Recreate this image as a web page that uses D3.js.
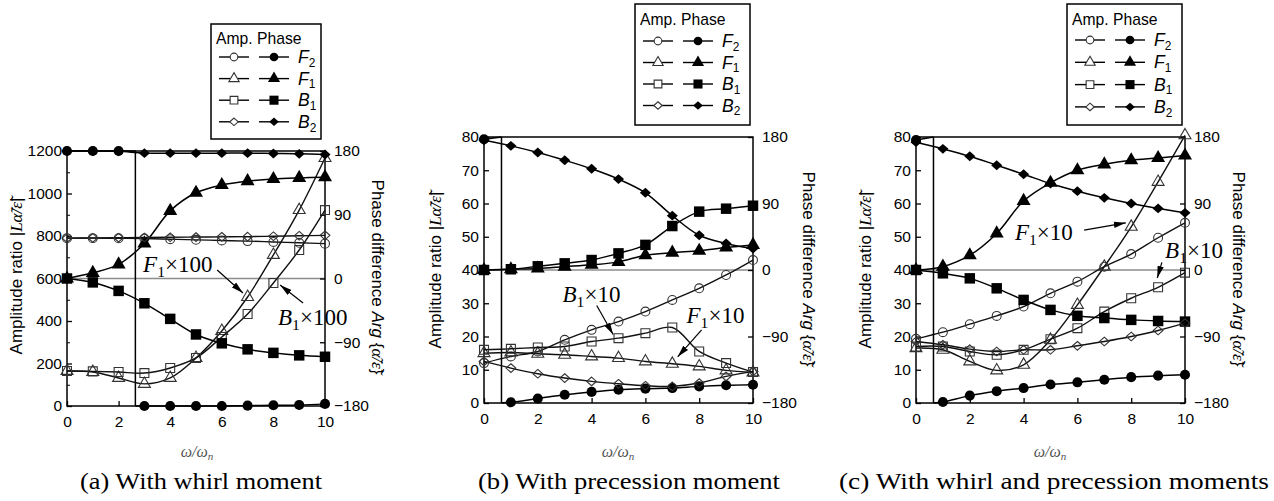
<!DOCTYPE html>
<html>
<head>
<meta charset="utf-8">
<script src="https://cdn.jsdelivr.net/npm/d3@7"></script>
<style>
  body { margin: 0; background: #fff; }
  svg text { font-family: "Liberation Sans", Arial, sans-serif; }
  .serif { font-family: "Liberation Serif", "Times New Roman", serif; }
</style>
</head>
<body>
<svg id="chart" width="1274" height="501"></svg>
<script>
// frequency ratio w/wn
var omega = [0, 1, 2, 3, 4, 5, 6, 7, 8, 9, 10];
var xTicks = [0, 2, 4, 6, 8, 10];
var phaseTicks = [-180, -90, 0, 90, 180];

// (a) whirl moment: amplitude ratio (F1, B1 already x100)
var aAmpF2 = [790, 790, 789, 788, 785, 782, 779, 776, 772, 768, 764];
var aAmpF1 = [165, 160, 132, 104, 132, 226, 353, 513, 711, 922, 1167];
var aAmpB1 = [165, 163, 160, 155, 179, 226, 325, 433, 579, 734, 922];
var aAmpB2 = [790, 791, 792, 793, 794, 795, 796, 797, 799, 801, 803];
// (a) phase difference, deg
var aPhF2 = [180, 180, 180, -180, -180, -180, -180, -179.5, -179, -178.5, -177];
var aPhF1 = [0, 8, 20, 49.5, 95.5, 121, 132, 137.5, 140.5, 142, 143];
var aPhB1 = [0, -5.5, -17.5, -35, -57, -79, -91.5, -100, -105, -108.5, -110.5];
var aPhB2 = [180, 180, 179.5, 177, 177, 177, 177, 177, 176.5, 176, 175];
var aJump = 2.65;

// (b) precession moment (F1, B1 x10)
var bAmpF2 = [12, 14, 15.5, 19, 22, 24.5, 27.5, 31, 34.5, 38.5, 43];
var bAmpF1 = [15, 15.2, 14.8, 14.5, 14, 13.5, 12.5, 11.8, 11, 9.8, 9.2];
var bAmpB1 = [16, 16.3, 16.7, 17, 18.5, 19.5, 21, 22.7, 15.5, 12, 9.3];
var bAmpB2 = [12.5, 10.5, 8.8, 7.5, 6.5, 5.8, 5.2, 5.0, 6.0, 8.0, 9.5];
var bPhF2 = [177, -179, -174, -168.8, -165, -162, -160.6, -159.8, -157.5, -156, -155.3];
var bPhF1 = [0, 1, 2, 4.5, 7, 11, 20, 23.5, 26, 30.5, 34];
var bPhB1 = [0, 1, 5, 9, 13.5, 22.5, 34, 59.5, 79, 83, 87];
var bPhB2 = [175.5, 168, 159, 148.5, 137, 123, 104.5, 73.5, 47, 36, 29];
var bJump = 0.65;

// (c) whirl and precession moments (F1, B1 x10)
var cAmpF2 = [19.3, 21.3, 23.7, 26.2, 29, 33, 36.5, 41, 44.8, 49.7, 54.2];
var cAmpF1 = [16.5, 16, 12.5, 9.8, 11.5, 19, 29.5, 41, 53, 66.5, 80.5];
var cAmpB1 = [17, 17, 15.5, 14.5, 16, 19.2, 22.5, 27.5, 31.5, 34.8, 39.2];
var cAmpB2 = [18.5, 17.5, 16.2, 15.5, 16, 16, 17.2, 18.5, 20, 21.8, 24];
var cPhF2 = [176, -178.6, -170, -164, -159.8, -155, -152, -148.5, -145, -143, -141.8];
var cPhF1 = [0, 4.5, 20, 49.5, 93.5, 118, 135, 143, 148.5, 151.5, 155];
var cPhB1 = [0, -4.5, -11.3, -24.8, -40.5, -54, -62, -65, -67.5, -69, -69.8];
var cPhB2 = [173, 164, 154, 141.8, 129.6, 117, 106.7, 97.7, 90, 83.3, 77.4];
var cJump = 0.65;

var seriesNames = ['F2', 'F1', 'B1', 'B2'];
var captions = ['(a) With whirl moment', '(b) With precession moment', '(c) With whirl and precession moments'];

var svg = d3.select('#chart');

svg.append('defs').append('marker')
  .attr('id', 'arrow').attr('viewBox', '0 0 12 8')
  .attr('refX', 12).attr('refY', 4)
  .attr('markerWidth', 12).attr('markerHeight', 8)
  .attr('markerUnits', 'userSpaceOnUse').attr('orient', 'auto')
  .append('path').attr('d', 'M0,0.8 L12,4 L0,7.2 z').attr('fill', '#000');

var diamond = {
  draw: function(ctx, size) {
    var w = Math.sqrt(size) * 0.62, h = Math.sqrt(size) * 0.55;
    ctx.moveTo(0, -h); ctx.lineTo(w, 0); ctx.lineTo(0, h); ctx.lineTo(-w, 0); ctx.closePath();
  }
};
var symTypes = [d3.symbolCircle, d3.symbolTriangle, d3.symbolSquare, diamond];
var openSize = [62, 62, 80, 62];
var fillSize = [80, 85, 110, 80];

function subText(sel, main, sub, rest, size) {
  sel.append('tspan').attr('font-style', 'italic').text(main);
  sel.append('tspan').attr('font-size', size * 0.68).attr('dy', size * 0.22).text(sub);
  if (rest) sel.append('tspan').attr('dy', -size * 0.22).text(rest);
}

var panels = [
  { x0: 67, x1: 325, yb: 406, yt: 151, ampMax: 1200, ampStep: 200, minor: 100,
    amp: [aAmpF2, aAmpF1, aAmpB1, aAmpB2], ph: [aPhF2, aPhF1, aPhB1, aPhB2], jump: aJump,
    legend: { x: 211, y: 24, w: 110, h: 115, hy: 44, r0: 57, dr: 21.6 },
    yl: { x: 16, y: 276 }, yr: { x: 378, y: 277 }, xl: 197, cap: 201, capW: 242,
    notes: [
      { t: 1, mult: '\u00d7100', tx: 2.95, ty: 630, ax: [5.82, 640, 6.82, 532] },
      { t: 2, mult: '\u00d7100', tx: 8.18, ty: 381, ax: [9.15, 485, 8.26, 569] }
    ] },
  { x0: 484, x1: 753, yb: 403, yt: 137, ampMax: 80, ampStep: 10, minor: 0,
    amp: [bAmpF2, bAmpF1, bAmpB1, bAmpB2], ph: [bPhF2, bPhF1, bPhB1, bPhB2], jump: bJump,
    legend: { x: 635, y: 4, w: 115, h: 121, hy: 25, r0: 41, dr: 21.5 },
    yl: { x: 435, y: 270 }, yr: { x: 809, y: 269 }, xl: 618, cap: 629, capW: 302,
    notes: [
      { t: 2, mult: '\u00d710', tx: 2.92, ty: 30.4, ax: [4.19, 29.3, 4.8, 20.6] },
      { t: 1, mult: '\u00d710', tx: 7.53, ty: 24.1, ax: [8.09, 22, 7.2, 13.9] }
    ] },
  { x0: 916, x1: 1185, yb: 403, yt: 137, ampMax: 80, ampStep: 10, minor: 0,
    amp: [cAmpF2, cAmpF1, cAmpB1, cAmpB2], ph: [cPhF2, cPhF1, cPhB1, cPhB2], jump: cJump,
    legend: { x: 1067, y: 4, w: 115, h: 121, hy: 25, r0: 40, dr: 22.3 },
    yl: { x: 865, y: 270 }, yr: { x: 1239, y: 269 }, xl: 1050, cap: 1054, capW: 430,
    notes: [
      { t: 1, mult: '\u00d710', tx: 3.68, ty: 49, ax: [6.25, 52, 7.8, 54.2] },
      { t: 2, mult: '\u00d710', tx: 9.26, ty: 43.6, ax: [9.14, 42.3, 8.97, 37.6] }
    ] }
];

panels.forEach(function(p, pi) {
  var g = svg.append('g');
  var x = d3.scaleLinear().domain([0, 10]).range([p.x0, p.x1]);
  var yA = d3.scaleLinear().domain([0, p.ampMax]).range([p.yb, p.yt]);
  var yP = d3.scaleLinear().domain([-180, 180]).range([p.yb, p.yt]);

  // zero phase reference
  g.append('line')
    .attr('x1', x(0)).attr('x2', x(10)).attr('y1', yP(0)).attr('y2', yP(0))
    .attr('stroke', '#8c8c8c').attr('stroke-width', 1.3);

  g.append('rect')
    .attr('x', x(0)).attr('y', p.yt).attr('width', x(10) - x(0)).attr('height', p.yb - p.yt)
    .attr('fill', 'none').attr('stroke', '#000').attr('stroke-width', 1.5);

  var axL = g.append('g').attr('transform', 'translate(' + x(0) + ',0)')
    .call(d3.axisLeft(yA).tickValues(d3.range(0, p.ampMax + 1, p.ampStep))
      .tickFormat(d3.format('d')).tickSize(-5).tickPadding(5));
  if (p.minor) {
    g.append('g').attr('transform', 'translate(' + x(0) + ',0)')
      .call(d3.axisLeft(yA).tickValues(d3.range(p.minor, p.ampMax, p.ampStep)).tickSize(-3).tickFormat(''))
      .select('.domain').remove();
  }
  var axB = g.append('g').attr('transform', 'translate(0,' + p.yb + ')')
    .call(d3.axisBottom(x).tickValues(xTicks).tickSize(-5).tickPadding(10));
  var axR = g.append('g').attr('transform', 'translate(' + x(10) + ',0)')
    .call(d3.axisRight(yP).tickValues(phaseTicks).tickSize(-5).tickPadding(9));
  [axL, axB, axR].forEach(function(a) {
    a.attr('font-family', null).attr('font-size', 15.5);
    a.select('.domain').remove();
    a.selectAll('.tick line').attr('stroke-width', 1.3);
  });

  var line = function(ys) {
    return d3.line().x(function(d) { return x(d[0]); }).y(function(d) { return ys(d[1]); })
      .curve(d3.curveCatmullRom.alpha(0.5));
  };

  seriesNames.forEach(function(name, si) {
    var amp = omega.map(function(w, i) { return [w, p.amp[si][i]]; });
    var ph = omega.map(function(w, i) { return [w, p.ph[si][i]]; });

    g.append('path').datum(amp).attr('d', line(yA))
      .attr('fill', 'none').attr('stroke', '#111').attr('stroke-width', 1.4);

    if (si === 0) {
      var pre = ph.filter(function(d) { return d[0] < p.jump; });
      var post = ph.filter(function(d) { return d[0] > p.jump; });
      g.append('path').datum(pre.concat([[p.jump, 180]])).attr('d', line(yP))
        .attr('fill', 'none').attr('stroke', '#000').attr('stroke-width', 1.5);
      g.append('path').datum([[p.jump, 180], [p.jump, -180]])
        .attr('d', d3.line().x(function(d) { return x(d[0]); }).y(function(d) { return yP(d[1]); }))
        .attr('fill', 'none').attr('stroke', '#000').attr('stroke-width', 1.5);
      g.append('path').datum([[p.jump, -180]].concat(post)).attr('d', line(yP))
        .attr('fill', 'none').attr('stroke', '#000').attr('stroke-width', 1.5);
    } else {
      g.append('path').datum(ph).attr('d', line(yP))
        .attr('fill', 'none').attr('stroke', '#000').attr('stroke-width', 1.5);
    }

    g.selectAll(null).data(amp).join('path')
      .attr('transform', function(d) { return 'translate(' + x(d[0]) + ',' + yA(d[1]) + ')'; })
      .attr('d', d3.symbol().type(symTypes[si]).size(openSize[si]))
      .attr('fill', 'none').attr('stroke', '#333').attr('stroke-width', 1.1);
    g.selectAll(null).data(ph).join('path')
      .attr('transform', function(d) { return 'translate(' + x(d[0]) + ',' + yP(d[1]) + ')'; })
      .attr('d', d3.symbol().type(symTypes[si]).size(fillSize[si]))
      .attr('fill', '#000');
  });

  // annotations
  p.notes.forEach(function(n) {
    var t = g.append('text').attr('class', 'serif').attr('font-size', 23)
      .attr('x', x(n.tx)).attr('y', yA(n.ty));
    subText(t, seriesNames[n.t].charAt(0), seriesNames[n.t].charAt(1), n.mult, 23);
    g.append('line')
      .attr('x1', x(n.ax[0])).attr('y1', yA(n.ax[1])).attr('x2', x(n.ax[2])).attr('y2', yA(n.ax[3]))
      .attr('stroke', '#000').attr('stroke-width', 1.2).attr('marker-end', 'url(#arrow)');
  });

  // axis titles
  var tl = g.append('text').attr('font-size', 17).attr('text-anchor', 'middle')
    .attr('transform', 'translate(' + p.yl.x + ',' + p.yl.y + ') rotate(-90)').attr('dy', '0.35em');
  tl.append('tspan').text('Amplitude ratio |');
  tl.append('tspan').attr('class', 'serif').attr('font-style', 'italic').text('L\u03b1\u0303/\u03b5\u0303');
  tl.append('tspan').text('|');
  var tr = g.append('text').attr('font-size', 17).attr('text-anchor', 'middle')
    .attr('transform', 'translate(' + p.yr.x + ',' + p.yr.y + ') rotate(90)').attr('dy', '0.35em');
  tr.append('tspan').text('Phase difference ');
  tr.append('tspan').attr('font-style', 'italic').text('Arg');
  tr.append('tspan').text(' {');
  tr.append('tspan').attr('class', 'serif').attr('font-style', 'italic').text('\u03b1\u0303/\u03b5\u0303');
  tr.append('tspan').text('}');

  var xl = g.append('text').attr('class', 'serif').attr('font-size', 16).attr('fill', '#555')
    .attr('text-anchor', 'middle').attr('x', p.xl).attr('y', 457).attr('font-style', 'italic');
  xl.append('tspan').text('\u03c9/\u03c9');
  xl.append('tspan').attr('font-size', 11).attr('dy', 3).text('n');

  g.append('text').attr('class', 'serif').attr('font-size', 24).attr('text-anchor', 'middle')
    .attr('x', p.cap).attr('y', 489).attr('textLength', p.capW).attr('lengthAdjust', 'spacingAndGlyphs')
    .text(captions[pi]);

  // legend
  var L = p.legend;
  var lg = g.append('g').attr('transform', 'translate(' + L.x + ',' + L.y + ')');
  lg.append('rect').attr('width', L.w).attr('height', L.h)
    .attr('fill', '#fff').attr('stroke', '#000').attr('stroke-width', 1.5);
  lg.append('text').attr('x', 5).attr('y', L.hy - L.y).attr('font-size', 15.7).text('Amp. Phase');
  seriesNames.forEach(function(name, si) {
    var cy = L.r0 - L.y + si * L.dr;
    [[8, 38, false], [48, 78, true]].forEach(function(c) {
      lg.append('line').attr('x1', c[0]).attr('x2', c[1]).attr('y1', cy).attr('y2', cy)
        .attr('stroke', '#000').attr('stroke-width', 1.4);
      var m = lg.append('path').attr('transform', 'translate(' + (c[0] + c[1]) / 2 + ',' + cy + ')')
        .attr('d', d3.symbol().type(symTypes[si]).size(c[2] ? fillSize[si] * 0.75 : openSize[si] * 0.75));
      if (c[2]) m.attr('fill', '#000');
      else m.attr('fill', '#fff').attr('stroke', '#333').attr('stroke-width', 1.1);
    });
    var t = lg.append('text').attr('x', 87).attr('y', cy + 6).attr('font-size', 17.5);
    subText(t, name.charAt(0), name.charAt(1), null, 17.5);
  });
});
</script>
</body>
</html>
